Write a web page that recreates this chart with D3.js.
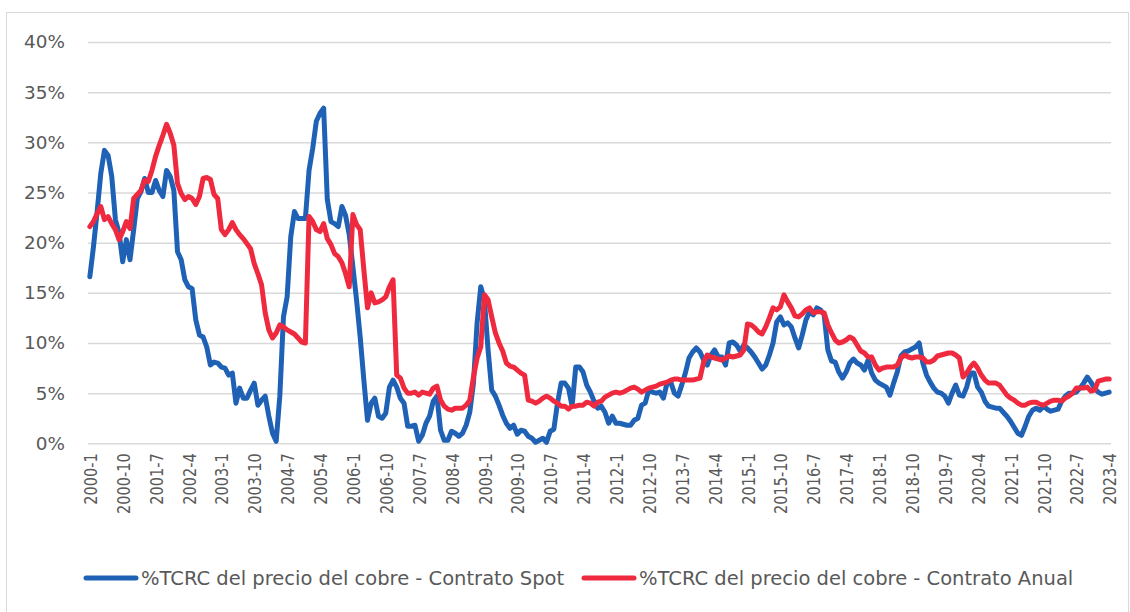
<!DOCTYPE html>
<html>
<head>
<meta charset="utf-8">
<script src="https://cdn.jsdelivr.net/npm/d3@7"></script>
<style>
  body { margin: 0; background: #fff; }
  svg { display: block; }
  text { font-family: 'DejaVu Sans', Verdana, sans-serif; fill: #595959; }
</style>
</head>
<body>
<div class="chart"></div>
<script>
//
// DATA
//
// months from 2000-1 to 2023-4
const startYear = 2000
const numMonths = 280
const categories = d3.range(numMonths).map(i => `${startYear + Math.floor(i / 12)}-${(i % 12) + 1}`)
// every ninth month gets a label
const tickLabels = categories.filter((c, i) => i % 9 === 0)
const yTicks = [0, 5, 10, 15, 20, 25, 30, 35, 40]

// %TCRC del precio del cobre, contrato spot
const spot = [
    16.6, 19.6, 23.1, 26.9, 29.2, 28.7, 26.6, 22.3, 21.0, 18.1, 20.3, 18.3,
    21.3, 24.4, 25.1, 26.4, 25.0, 25.0, 26.2, 25.2, 24.6, 27.2, 26.6, 25.2,
    19.1, 18.3, 16.3, 15.6, 15.4, 12.3, 10.8, 10.6, 9.6, 7.8, 8.1, 8.0,
    7.6, 7.5, 6.8, 7.0, 4.0, 5.5, 4.5, 4.5, 5.3, 6.0, 3.8, 4.3,
    4.7, 2.7, 1.0, 0.2, 4.7, 12.6, 14.6, 20.6, 23.1, 22.4, 22.4, 22.4,
    27.2, 29.4, 32.1, 32.9, 33.4, 24.3, 22.1, 21.9, 21.6, 23.6, 22.7, 20.8,
    17.6, 14.3, 10.6, 6.3, 2.3, 4.0, 4.5, 2.7, 2.5, 3.0, 5.6, 6.3,
    5.6, 4.5, 4.0, 1.7, 1.7, 1.8, 0.2, 0.8, 2.0, 2.7, 4.2, 4.7,
    1.3, 0.3, 0.3, 1.2, 1.0, 0.7, 1.0, 1.8, 3.1, 6.0, 12.0, 15.6,
    14.3, 9.3, 5.3, 4.7, 3.8, 2.8, 2.0, 1.5, 1.8, 0.9, 1.3, 1.2,
    0.7, 0.5, 0.1, 0.3, 0.5, 0.1, 1.2, 1.4, 4.0, 6.0, 6.0, 5.5,
    3.7, 7.6, 7.6, 7.1, 5.8, 5.1, 4.2, 3.5, 3.7, 3.1, 2.0, 2.7,
    2.0, 2.0, 1.9, 1.8, 1.8, 2.3, 2.5, 3.8, 4.0, 5.3, 5.1, 5.0,
    5.1, 4.5, 6.0, 6.1, 5.0, 4.7, 5.8, 7.0, 8.5, 9.1, 9.5, 9.1,
    8.3, 7.8, 8.8, 9.3, 8.6, 8.6, 7.8, 10.0, 10.1, 9.8, 9.2, 9.8,
    9.5, 9.1, 8.6, 8.0, 7.4, 7.8, 8.8, 10.0, 12.1, 12.6, 11.8, 12.0,
    11.6, 10.5, 9.5, 10.8, 12.3, 13.1, 12.8, 13.5, 13.3, 12.8, 9.3, 8.2,
    8.1, 7.1, 6.5, 7.1, 8.0, 8.4, 8.0, 7.8, 7.3, 8.3, 7.0, 6.3,
    6.0, 5.8, 5.6, 4.8, 6.0, 7.1, 8.7, 9.1, 9.2, 9.4, 9.6, 10.0,
    8.0, 6.8, 6.1, 5.5, 5.1, 5.0, 4.7, 4.0, 5.0, 5.8, 4.8, 4.7,
    5.6, 7.0, 7.0, 5.6, 5.1, 4.2, 3.7, 3.6, 3.5, 3.5, 3.1, 2.7,
    2.2, 1.6, 1.0, 0.8, 1.7, 2.7, 3.3, 3.5, 3.3, 3.7, 3.4, 3.2,
    3.3, 3.4, 4.2, 4.7, 5.0, 5.0, 5.1, 5.5, 6.0, 6.6, 6.1, 5.5,
    5.1, 4.9, 5.0, 5.1
]

// %TCRC del precio del cobre, contrato anual
const annual = [
    21.6, 22.1, 22.9, 23.6, 22.3, 22.6, 21.9, 21.3, 20.3, 21.1, 22.1, 21.4,
    24.4, 24.8, 25.2, 26.2, 26.1, 27.2, 28.6, 29.7, 30.7, 31.8, 30.9, 29.7,
    25.9, 24.9, 24.3, 24.6, 24.4, 23.8, 24.6, 26.4, 26.5, 26.3, 24.8, 24.4,
    21.3, 20.8, 21.3, 22.0, 21.3, 20.8, 20.4, 19.9, 19.4, 17.9, 16.9, 15.8,
    13.0, 11.3, 10.5, 11.0, 11.8, 11.6, 11.3, 11.1, 10.9, 10.5, 10.1, 10.0,
    22.6, 22.1, 21.3, 21.1, 21.9, 20.4, 19.8, 18.9, 18.6, 18.0, 16.9, 15.6,
    22.8, 21.8, 21.3, 17.3, 13.5, 15.0, 14.0, 14.1, 14.3, 14.6, 15.6, 16.3,
    6.8, 6.5, 5.5, 5.0, 5.0, 5.1, 4.8, 5.1, 5.0, 4.9, 5.5, 5.7,
    4.3, 3.7, 3.4, 3.3, 3.5, 3.5, 3.5, 3.8, 4.3, 6.6, 8.5, 9.6,
    14.8, 14.3, 12.6, 11.0, 10.0, 9.2, 8.0, 7.7, 7.6, 7.3, 7.0, 6.8,
    4.3, 4.2, 4.0, 4.2, 4.5, 4.7, 4.5, 4.2, 4.0, 3.7, 3.7, 3.4,
    3.7, 3.7, 3.8, 3.8, 4.1, 4.0, 3.7, 4.1, 4.2, 4.6, 4.8, 5.0,
    5.1, 5.0, 5.1, 5.3, 5.5, 5.6, 5.4, 5.1, 5.3, 5.5, 5.6, 5.7,
    5.9, 6.0, 6.1, 6.3, 6.4, 6.4, 6.3, 6.3, 6.3, 6.3, 6.4, 6.5,
    8.1, 8.8, 8.6, 8.5, 8.4, 8.3, 8.5, 8.7, 8.6, 8.7, 8.8, 9.3,
    11.9, 11.8, 11.5, 11.1, 10.9, 11.6, 12.5, 13.5, 13.3, 13.6, 14.8, 14.1,
    13.5, 12.7, 12.6, 12.9, 13.3, 13.5, 13.0, 13.1, 13.1, 13.0, 11.8, 11.0,
    10.3, 10.0, 10.1, 10.3, 10.6, 10.4, 9.8, 9.2, 9.0, 8.6, 8.6, 7.8,
    7.3, 7.5, 7.6, 7.6, 7.6, 7.8, 8.5, 8.8, 8.6, 8.5, 8.6, 8.6,
    8.5, 8.1, 8.1, 8.3, 8.7, 8.8, 8.9, 9.0, 9.0, 8.8, 8.5, 6.6,
    7.0, 7.6, 8.0, 7.5, 6.8, 6.3, 6.0, 6.0, 6.0, 5.8, 5.3, 4.8,
    4.5, 4.3, 4.0, 3.8, 3.8, 4.0, 4.1, 4.1, 3.9, 3.8, 4.0, 4.2,
    4.3, 4.3, 4.2, 4.5, 4.7, 5.0, 5.5, 5.5, 5.5, 5.6, 5.2, 5.3,
    6.2, 6.3, 6.4, 6.4
]

const seriesNames = [
    '%TCRC del precio del cobre - Contrato Spot',
    '%TCRC del precio del cobre - Contrato Anual'
]
const seriesColors = ['#1f62b5', '#ef2a3f']

//
// GLOBALS
//
const width = 1130
const height = 612
const plot = { left: 88, right: 1111, top: 42, bottom: 443.3 }

const svg = d3.select('.chart')
    .append('svg')
    .attr('width', width)
    .attr('height', height)

// outer frame of the chart area
svg.append('rect')
    .attr('x', 6.5)
    .attr('y', 12.5)
    .attr('width', 1122)
    .attr('height', 640)
    .attr('fill', 'none')
    .attr('stroke', '#d9d9d9')
    .attr('stroke-width', 1)

// category centres, like excel puts them
const x = d3.scalePoint()
    .domain(categories)
    .range([plot.left, plot.right])
    .padding(0.5)

const y = d3.scaleLinear()
    .domain([0, 40])
    .range([plot.bottom, plot.top])

// horizontal gridlines (the 0% one doubles as the axis line)
svg.append('g')
    .attr('class', 'grid')
    .attr('transform', `translate(${plot.left},0)`)
    .call(d3.axisLeft(y).tickValues(yTicks).tickSize(-(plot.right - plot.left)).tickFormat(''))
    .call(g => g.select('.domain').remove())
    .call(g => g.selectAll('line').attr('stroke', '#d9d9d9').attr('stroke-width', 1.5))

// y labels
svg.append('g')
    .attr('transform', `translate(${plot.left},0)`)
    .call(d3.axisLeft(y).tickValues(yTicks).tickSize(0).tickPadding(23).tickFormat(d => d + '%'))
    .call(g => g.select('.domain').remove())
    .call(g => g.selectAll('text').style('font-size', '18.4px').attr('fill', '#595959'))

// x labels, rotated
// the reference labels are narrower along their length, so squeeze them a bit
svg.append('g')
    .attr('transform', `translate(0,${plot.bottom})`)
    .call(d3.axisBottom(x).tickValues(tickLabels).tickSize(0))
    .call(g => g.select('.domain').remove())
    .call(g => g.selectAll('text')
        .style('font-size', '18.4px')
        .attr('fill', '#595959')
        .attr('text-anchor', 'end')
        .attr('dy', '0.36em')
        .attr('transform', 'translate(0,10) rotate(-90) scale(0.79,1)')
        .attr('x', 0)
        .attr('y', 0))

// lines: spot first, annual on top
const line = d3.line()
    .x((d, i) => x(categories[i]))
    .y(d => y(d))

;[spot, annual].forEach((values, idx) => {
    svg.append('path')
        .datum(values)
        .attr('d', line)
        .attr('fill', 'none')
        .attr('stroke', seriesColors[idx])
        .attr('stroke-width', 5)
        .attr('stroke-linejoin', 'round')
        .attr('stroke-linecap', 'round')
})

// legend
const legendY = 578
const legendX = [86, 584]
seriesNames.forEach((name, idx) => {
    const g = svg.append('g').attr('transform', `translate(${legendX[idx]},${legendY})`)
    g.append('line')
        .attr('x1', 0).attr('x2', 50)
        .attr('y1', 0).attr('y2', 0)
        .attr('stroke', seriesColors[idx])
        .attr('stroke-width', 5)
        .attr('stroke-linecap', 'round')
    g.append('text')
        .attr('x', 55)
        .attr('y', 0)
        .attr('dy', '0.36em')
        .style('font-size', '19.5px')
        .attr('fill', '#595959')
        .text(name)
})
</script>
</body>
</html>
